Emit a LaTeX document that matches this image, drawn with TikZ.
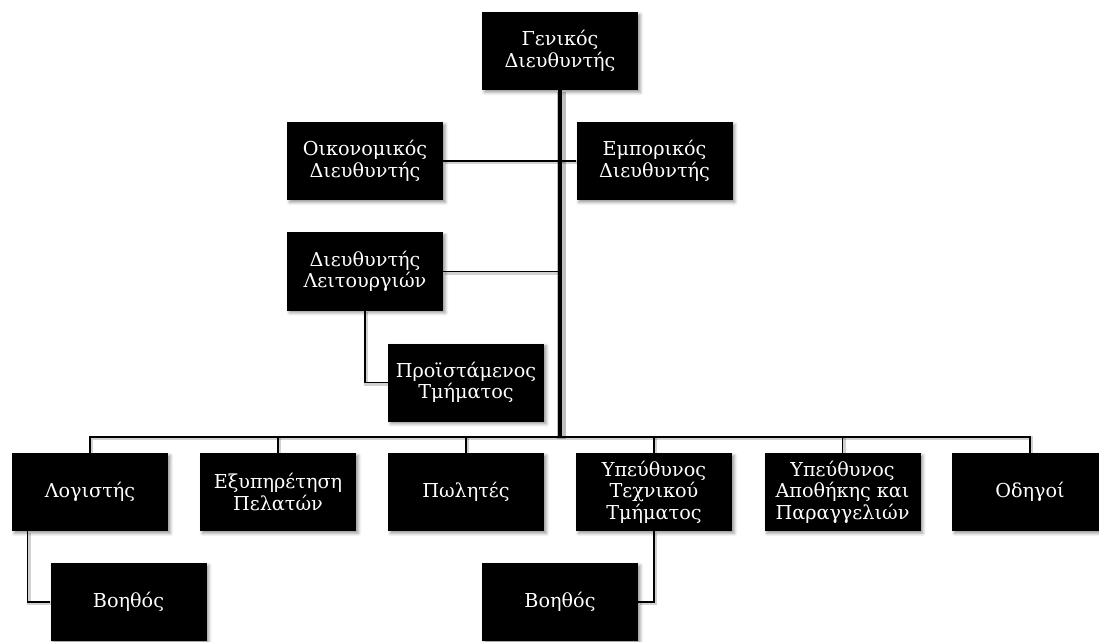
\documentclass[tikz,border=0pt]{standalone}
\usepackage{fontspec}
\setmainfont{DejaVu Serif}
\usetikzlibrary{shadows.blur,backgrounds}
\begin{document}
\begin{tikzpicture}[x=0.5pt,y=-0.5pt,
  box/.style={fill=black, text=white, minimum width=78pt, minimum height=39pt,
    inner sep=0pt, align=center, font=\fontsize{9.6}{10.8}\selectfont,
    blur shadow={shadow xshift=1.2pt, shadow yshift=-1.2pt, shadow opacity=40, shadow blur radius=1.5pt}},
  conn/.style={line width=0.75pt, black,
    preaction={draw, black, opacity=0.18, line width=2pt, transform canvas={xshift=0.7pt,yshift=-0.7pt}}},
  trunk/.style={line width=2.2pt, black,
    preaction={draw, black, opacity=0.25, line width=4.5pt, transform canvas={xshift=0.8pt,yshift=-0.8pt}}}]
\useasboundingbox (0,0) rectangle (1099,642);
\clip (0,0) rectangle (1099,642);
\node[box] (gen) at (560,51) {Γενικός\\Διευθυντής};
\node[box] (oik) at (365,161) {Οικονομικός\\Διευθυντής};
\node[box] (emp) at (654.5,161) {Εμπορικός\\Διευθυντής};
\node[box] (leit) at (365,271.5) {Διευθυντής\\Λειτουργιών};
\node[box] (proist) at (466,382.5) {Προϊστάμενος\\Τμήματος};
\node[box] (log) at (90,492) {Λογιστής};
\node[box] (exy) at (278,492) {Εξυπηρέτηση\\Πελατών};
\node[box] (pol) at (466,492) {Πωλητές};
\node[box] (tech) at (654,492) {Υπεύθυνος\\Τεχνικού\\Τμήματος};
\node[box] (apo) at (842.5,492) {Υπεύθυνος\\Αποθήκης και\\Παραγγελιών};
\node[box] (odi) at (1030,492) {Οδηγοί};
\node[box] (boh1) at (128.5,602) {Βοηθός};
\node[box] (boh2) at (560,602) {Βοηθός};
\coordinate (jn) at (560,437);
\begin{scope}[on background layer]
\draw[conn] (oik.east) -- (emp.west);
\draw[conn] (leit.east) -- (leit.east -| jn);
\draw[conn] (leit.south) |- (proist.west);
\draw[conn] (log.north) -- (log.north |- jn) -- (odi.north |- jn) -- (odi.north);
\foreach \n in {exy,pol,tech,apo} \draw[conn] (\n.north) -- (\n.north |- jn);
\draw[conn] ([xshift=8pt]log.south west) |- (boh1.west);
\draw[conn] (tech.south) |- (boh2.east);
\draw[trunk] (gen.south) -- (jn);
\end{scope}
\end{tikzpicture}
\end{document}
